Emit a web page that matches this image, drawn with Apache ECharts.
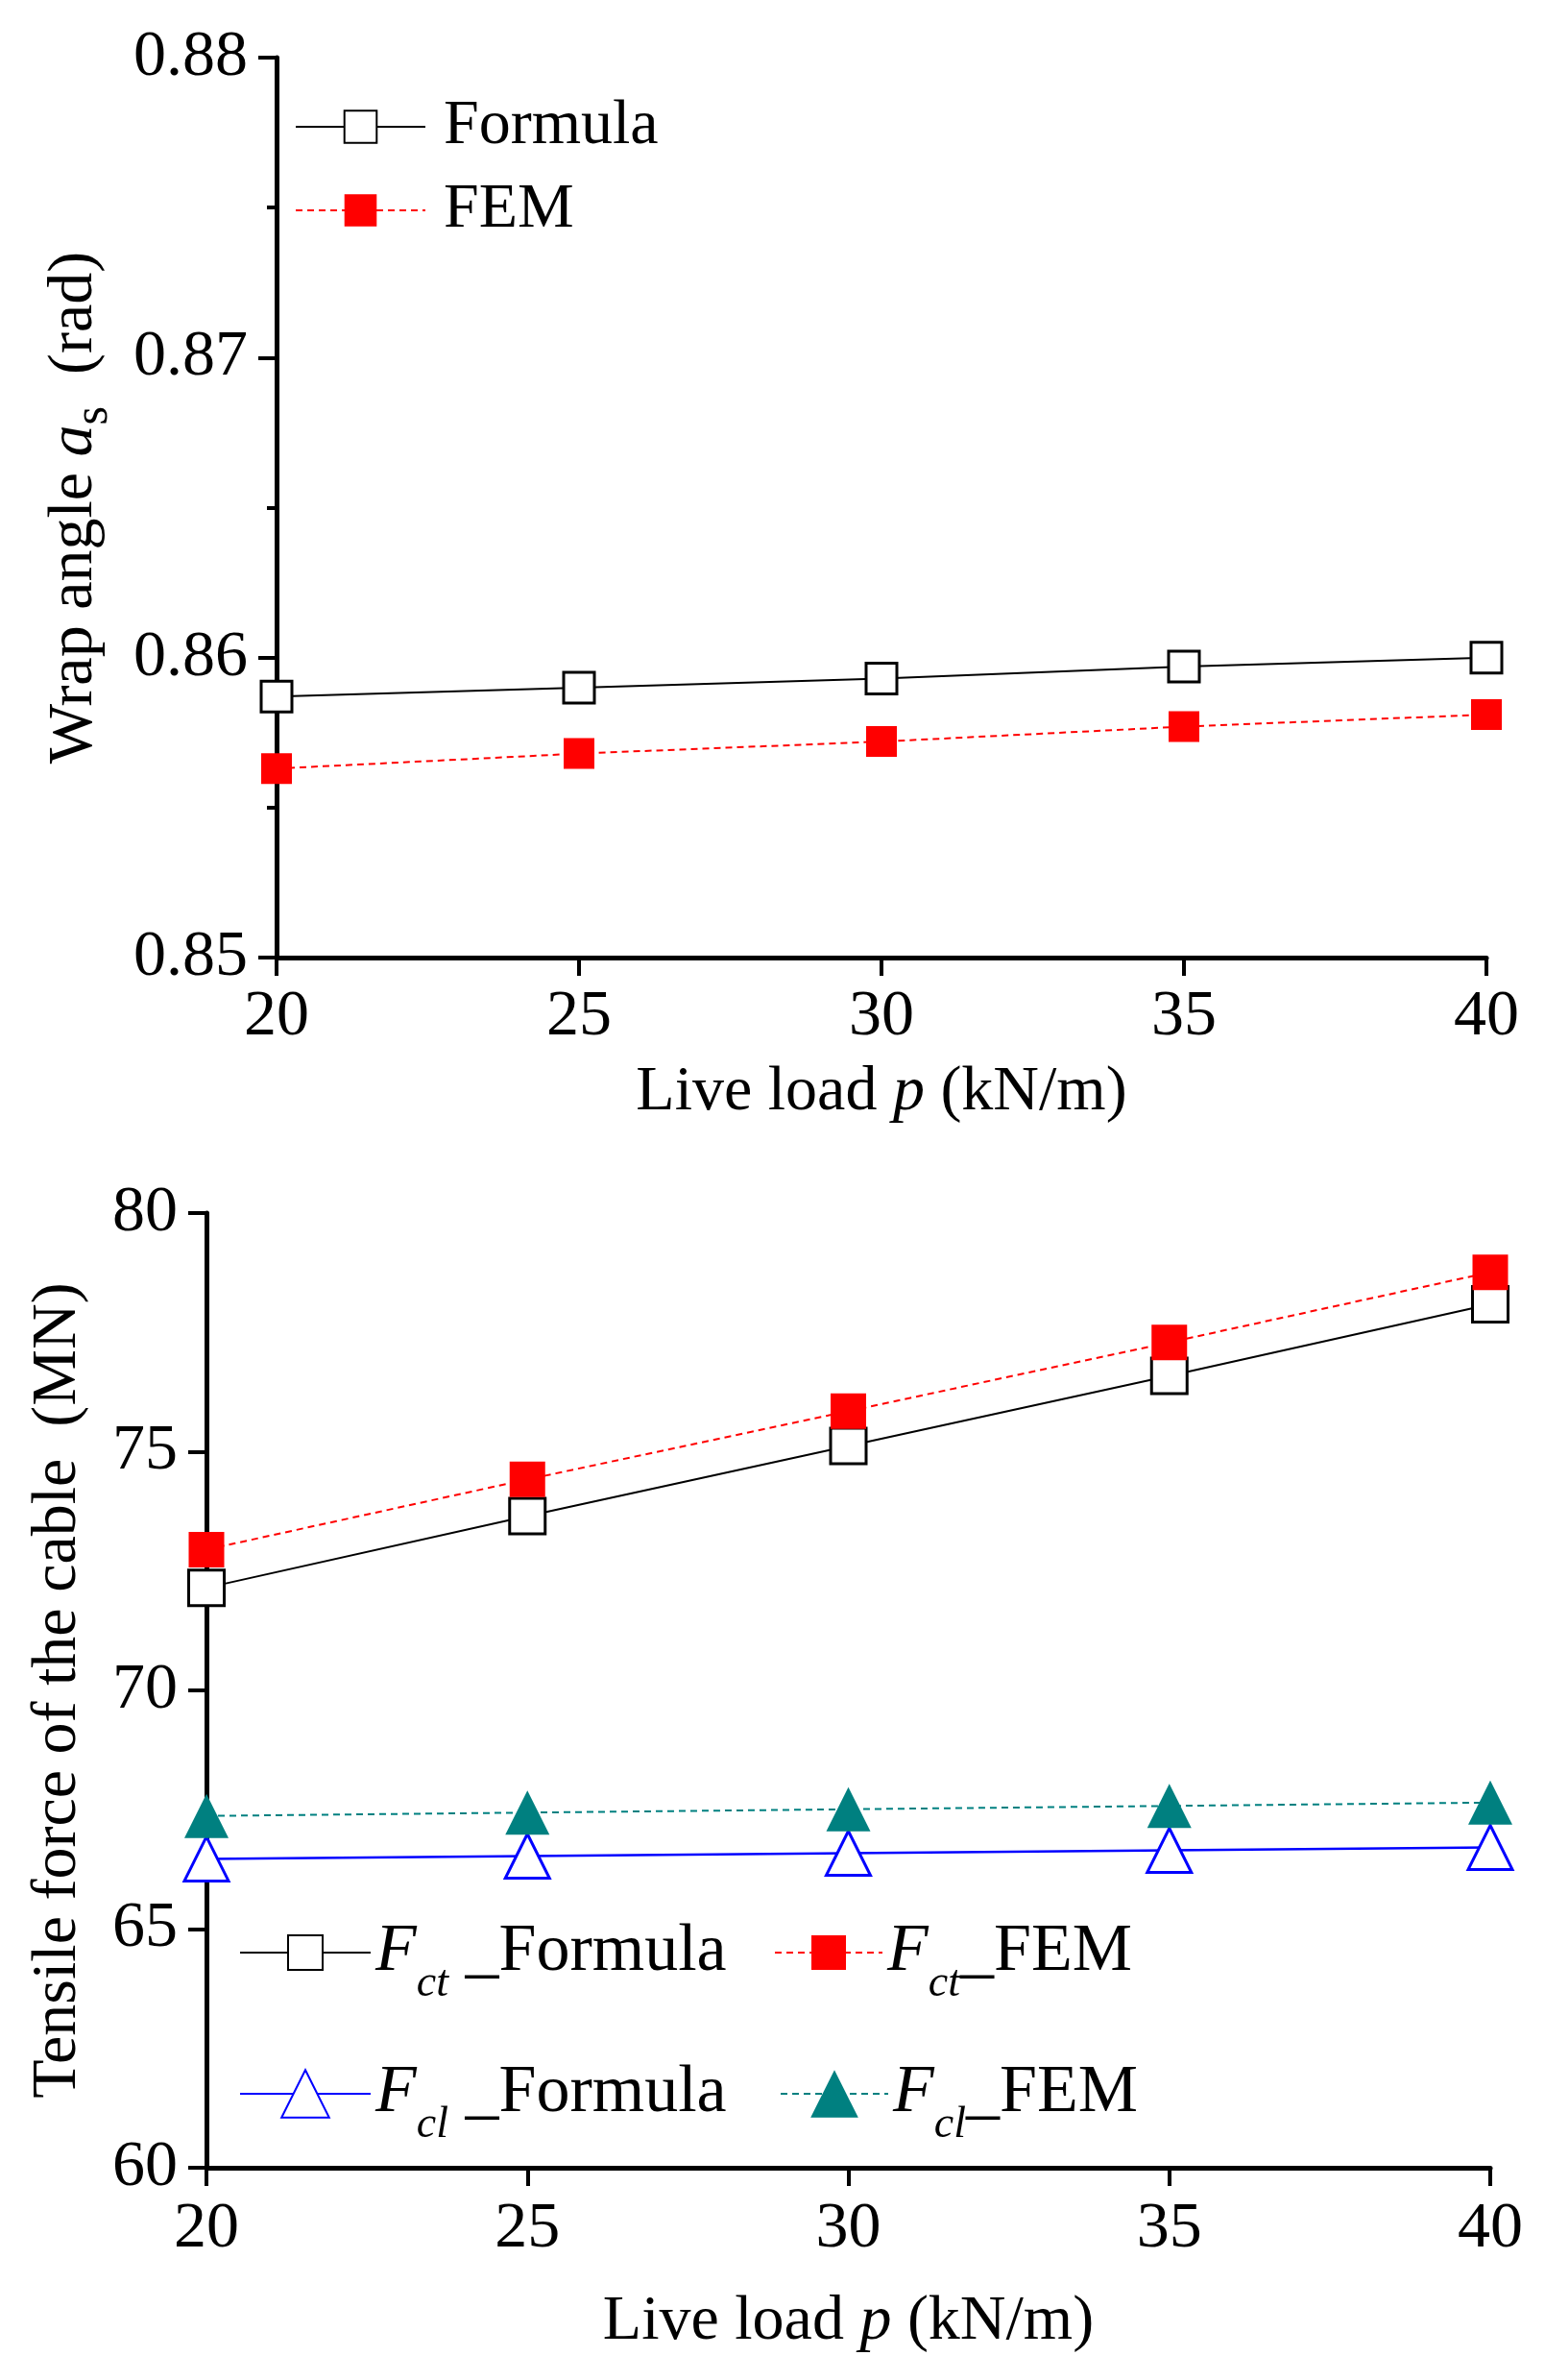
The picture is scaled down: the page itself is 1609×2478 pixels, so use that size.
<!DOCTYPE html>
<html>
<head>
<meta charset="utf-8">
<script src="https://cdn.jsdelivr.net/npm/echarts@6/dist/echarts.min.js"></script>
<style>
  html, body { margin: 0; padding: 0; background: #fff; }
  #chart { width: 1609px; height: 2478px; }
</style>
</head>
<body>
<div id="chart"></div>
<script>
// live load p (kN/m)
var loads = [20, 25, 30, 35, 40];
// wrap angle (rad)
var wrapFormula = [0.8587, 0.8590, 0.8593, 0.8597, 0.8600];
var wrapFEM = [0.8563, 0.8568, 0.8572, 0.8577, 0.8581];
// tensile force of the cable (MN)
var fctFormula = [72.15, 73.65, 75.12, 76.59, 78.09];
var fctFEM = [72.95, 74.42, 75.85, 77.29, 78.76];
var fclFormula = [66.47, 66.53, 66.59, 66.65, 66.71];
var fclFEM = [67.37, 67.44, 67.51, 67.58, 67.65];
// tick labels
var loadTicks = [20, 25, 30, 35, 40];
var wrapTicks = [0.85, 0.86, 0.87, 0.88];
var forceTicks = [60, 65, 70, 75, 80];

var FONT = 'Liberation Serif';

function pairs(arr) {
  return loads.map(function (x, i) { return [x, arr[i]]; });
}

// 图例文字（带下标）
var legendText = {
  'Fct_Formula': '{i|F}{s|ct}{n| _Formula}',
  'Fct_FEM': '{i|F}{s|ct}{n|_FEM}',
  'Fcl_Formula': '{i|F}{s|cl}{n| _Formula}',
  'Fcl_FEM': '{i|F}{s|cl}{n|_FEM}'
};
var legendRich = {
  i: { fontFamily: FONT, fontSize: 70, fontStyle: 'italic', lineHeight: 70, color: '#000' },
  s: { fontFamily: FONT, fontSize: 46, fontStyle: 'italic', lineHeight: 46, padding: [66, 0, 0, 0], color: '#000' },
  n: { fontFamily: FONT, fontSize: 70, lineHeight: 70, color: '#000' }
};

function xAxis(gridIndex, nameGap, margin) {
  return {
    type: 'value', gridIndex: gridIndex,
    min: loadTicks[0], max: loadTicks[loadTicks.length - 1], interval: 5,
    name: '{n|Live load }{i|p}{n| (kN/m)}',
    nameLocation: 'middle', nameGap: nameGap,
    nameTextStyle: {
      rich: {
        n: { fontFamily: FONT, fontSize: 66, color: '#000' },
        i: { fontFamily: FONT, fontSize: 66, fontStyle: 'italic', color: '#000' }
      }
    },
    axisLine: { lineStyle: { color: '#000', width: 5 } },
    axisTick: { inside: false, length: 19, lineStyle: { color: '#000', width: 4 } },
    axisLabel: { fontFamily: FONT, fontSize: 68, color: '#000', margin: margin },
    splitLine: { show: false }
  };
}

var option = {
  backgroundColor: '#fff',
  animation: false,
  grid: [
    { left: 288, right: 61, top: 60, height: 937 },
    { left: 215, right: 57, top: 1263, height: 994 }
  ],
  xAxis: [xAxis(0, 108, 28), xAxis(1, 128, 30)],
  yAxis: [
    {
      type: 'value', gridIndex: 0,
      min: wrapTicks[0], max: wrapTicks[wrapTicks.length - 1], interval: 0.01,
      name: '{n|Wrap angle }{i|a}{s|s}{n|  (rad)}',
      nameLocation: 'middle', nameGap: 177, nameRotate: 90,
      nameTextStyle: {
        rich: {
          n: { fontFamily: FONT, fontSize: 66, lineHeight: 66, color: '#000' },
          i: { fontFamily: FONT, fontSize: 66, lineHeight: 66, fontStyle: 'italic', color: '#000' },
          s: { fontFamily: FONT, fontSize: 50, lineHeight: 50, padding: [40, 0, 0, 0], color: '#000' }
        }
      },
      axisLine: { show: true, lineStyle: { color: '#000', width: 5 } },
      axisTick: { show: true, length: 19, lineStyle: { color: '#000', width: 4 } },
      minorTick: { show: true, splitNumber: 2, length: 10, lineStyle: { color: '#000', width: 4 } },
      axisLabel: {
        fontFamily: FONT, fontSize: 68, color: '#000', margin: 30,
        formatter: function (v) { return v.toFixed(2); }
      },
      splitLine: { show: false }
    },
    {
      type: 'value', gridIndex: 1,
      min: forceTicks[0], max: forceTicks[forceTicks.length - 1], interval: 5,
      name: 'Tensile force of the cable  (MN)',
      nameLocation: 'middle', nameGap: 121, nameRotate: 90,
      nameTextStyle: { fontFamily: FONT, fontSize: 66, color: '#000' },
      axisLine: { show: true, lineStyle: { color: '#000', width: 5 } },
      axisTick: { show: true, length: 19, lineStyle: { color: '#000', width: 4 } },
      axisLabel: { fontFamily: FONT, fontSize: 68, color: '#000', margin: 30 },
      splitLine: { show: false }
    }
  ],
  legend: [
    {
      data: ['Formula', 'FEM'], orient: 'vertical',
      left: 302, top: 94, itemWidth: 135, itemHeight: 42, itemGap: 21,
      textStyle: { fontFamily: FONT, fontSize: 66, lineHeight: 66, color: '#000', padding: [0, 0, 0, 14] }
    },
    {
      data: ['Fct_Formula'], left: 244, top: 1972, itemWidth: 136, itemHeight: 45,
      formatter: function (n) { return legendText[n]; }, textStyle: { rich: legendRich }
    },
    {
      data: ['Fct_FEM'], left: 801, top: 1972, itemWidth: 112, itemHeight: 45,
      formatter: function (n) { return legendText[n]; }, textStyle: { rich: legendRich }
    },
    {
      data: ['Fcl_Formula'], left: 244, top: 2119, itemWidth: 136, itemHeight: 62,
      formatter: function (n) { return legendText[n]; }, textStyle: { rich: legendRich }
    },
    {
      data: ['Fcl_FEM'], left: 807, top: 2119, itemWidth: 112, itemHeight: 62,
      formatter: function (n) { return legendText[n]; }, textStyle: { rich: legendRich }
    }
  ],
  series: [
    {
      name: 'Formula', type: 'line', xAxisIndex: 0, yAxisIndex: 0,
      data: pairs(wrapFormula), symbol: 'rect', symbolSize: 32, color: '#000',
      lineStyle: { color: '#000', width: 2 },
      itemStyle: { color: '#fff', borderColor: '#000', borderWidth: 3 }
    },
    {
      name: 'FEM', type: 'line', xAxisIndex: 0, yAxisIndex: 0,
      data: pairs(wrapFEM), symbol: 'rect', symbolSize: 32, color: '#ff0000',
      lineStyle: { color: '#ff0000', width: 2, type: [7, 5] },
      itemStyle: { color: '#ff0000' }
    },
    {
      name: 'Fct_Formula', type: 'line', xAxisIndex: 1, yAxisIndex: 1,
      data: pairs(fctFormula), symbol: 'rect', symbolSize: 37, color: '#000',
      lineStyle: { color: '#000', width: 2 },
      itemStyle: { color: '#fff', borderColor: '#000', borderWidth: 3 }
    },
    {
      name: 'Fct_FEM', type: 'line', xAxisIndex: 1, yAxisIndex: 1,
      data: pairs(fctFEM), symbol: 'rect', symbolSize: 37, color: '#ff0000',
      lineStyle: { color: '#ff0000', width: 2, type: [7, 5] },
      itemStyle: { color: '#ff0000' }
    },
    {
      name: 'Fcl_Formula', type: 'line', xAxisIndex: 1, yAxisIndex: 1,
      data: pairs(fclFormula), symbol: 'triangle', symbolSize: 46, color: '#0000ff',
      lineStyle: { color: '#0000ff', width: 2.5 },
      itemStyle: { color: '#fff', borderColor: '#0000ff', borderWidth: 3 }
    },
    {
      name: 'Fcl_FEM', type: 'line', xAxisIndex: 1, yAxisIndex: 1,
      data: pairs(fclFEM), symbol: 'triangle', symbolSize: 46, color: '#008080',
      lineStyle: { color: '#008080', width: 2, type: [7, 5] },
      itemStyle: { color: '#008080' }
    }
  ]
};

var chart = echarts.init(document.getElementById('chart'));
chart.setOption(option);
</script>
</body>
</html>
